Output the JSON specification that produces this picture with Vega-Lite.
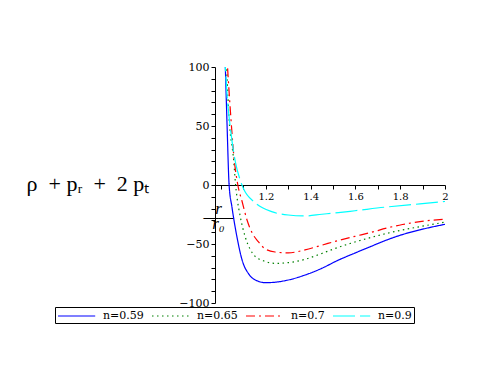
{
  "$schema": "https://vega.github.io/schema/vega-lite/v6.json",
  "width": 230,
  "height": 236,
  "autosize": "none",
  "padding": {"left": 215, "top": 67, "right": 40, "bottom": 85},
  "background": "white",
  "config": {"view": {"stroke": null}},
  "data": {
    "values": [
      {"r": 1.017, "v": 115, "n": "n=0.59"},
      {"r": 1.027, "v": 50, "n": "n=0.59"},
      {"r": 1.036, "v": 0, "n": "n=0.59"},
      {"r": 1.049, "v": -19, "n": "n=0.59"},
      {"r": 1.071, "v": -44, "n": "n=0.59"},
      {"r": 1.094, "v": -63.6, "n": "n=0.59"},
      {"r": 1.124, "v": -75.5, "n": "n=0.59"},
      {"r": 1.153, "v": -80.5, "n": "n=0.59"},
      {"r": 1.2, "v": -82.8, "n": "n=0.59"},
      {"r": 1.25, "v": -82.2, "n": "n=0.59"},
      {"r": 1.3, "v": -80.5, "n": "n=0.59"},
      {"r": 1.375, "v": -76.3, "n": "n=0.59"},
      {"r": 1.45, "v": -70.6, "n": "n=0.59"},
      {"r": 1.52, "v": -64, "n": "n=0.59"},
      {"r": 1.6, "v": -57.5, "n": "n=0.59"},
      {"r": 1.67, "v": -52, "n": "n=0.59"},
      {"r": 1.74, "v": -46.6, "n": "n=0.59"},
      {"r": 1.81, "v": -42, "n": "n=0.59"},
      {"r": 1.888, "v": -38, "n": "n=0.59"},
      {"r": 2.0, "v": -33.3, "n": "n=0.59"},

      {"r": 1.022, "v": 115, "n": "n=0.65"},
      {"r": 1.034, "v": 62, "n": "n=0.65"},
      {"r": 1.057, "v": 19.5, "n": "n=0.65"},
      {"r": 1.065, "v": 0, "n": "n=0.65"},
      {"r": 1.071, "v": -10, "n": "n=0.65"},
      {"r": 1.086, "v": -27, "n": "n=0.65"},
      {"r": 1.108, "v": -44, "n": "n=0.65"},
      {"r": 1.13, "v": -54.5, "n": "n=0.65"},
      {"r": 1.152, "v": -60.5, "n": "n=0.65"},
      {"r": 1.189, "v": -64.2, "n": "n=0.65"},
      {"r": 1.241, "v": -66.4, "n": "n=0.65"},
      {"r": 1.3, "v": -65.8, "n": "n=0.65"},
      {"r": 1.375, "v": -63, "n": "n=0.65"},
      {"r": 1.45, "v": -58, "n": "n=0.65"},
      {"r": 1.524, "v": -52.8, "n": "n=0.65"},
      {"r": 1.598, "v": -48.3, "n": "n=0.65"},
      {"r": 1.673, "v": -44.3, "n": "n=0.65"},
      {"r": 1.74, "v": -41, "n": "n=0.65"},
      {"r": 1.888, "v": -35.3, "n": "n=0.65"},
      {"r": 2.0, "v": -31.5, "n": "n=0.65"},

      {"r": 1.024, "v": 115, "n": "n=0.7"},
      {"r": 1.042, "v": 62, "n": "n=0.7"},
      {"r": 1.057, "v": 25, "n": "n=0.7"},
      {"r": 1.075, "v": 0, "n": "n=0.7"},
      {"r": 1.094, "v": -14, "n": "n=0.7"},
      {"r": 1.116, "v": -29.7, "n": "n=0.7"},
      {"r": 1.14, "v": -41, "n": "n=0.7"},
      {"r": 1.166, "v": -48, "n": "n=0.7"},
      {"r": 1.196, "v": -54, "n": "n=0.7"},
      {"r": 1.241, "v": -56.8, "n": "n=0.7"},
      {"r": 1.3, "v": -57.5, "n": "n=0.7"},
      {"r": 1.375, "v": -55, "n": "n=0.7"},
      {"r": 1.45, "v": -51, "n": "n=0.7"},
      {"r": 1.524, "v": -47, "n": "n=0.7"},
      {"r": 1.598, "v": -43.5, "n": "n=0.7"},
      {"r": 1.673, "v": -40, "n": "n=0.7"},
      {"r": 1.74, "v": -36.5, "n": "n=0.7"},
      {"r": 1.81, "v": -33.5, "n": "n=0.7"},
      {"r": 1.888, "v": -31, "n": "n=0.7"},
      {"r": 2.0, "v": -29, "n": "n=0.7"},

      {"r": 1.015, "v": 115, "n": "n=0.9"},
      {"r": 1.027, "v": 76, "n": "n=0.9"},
      {"r": 1.042, "v": 47.7, "n": "n=0.9"},
      {"r": 1.064, "v": 19.5, "n": "n=0.9"},
      {"r": 1.086, "v": 4, "n": "n=0.9"},
      {"r": 1.1, "v": -3, "n": "n=0.9"},
      {"r": 1.152, "v": -15, "n": "n=0.9"},
      {"r": 1.226, "v": -22.6, "n": "n=0.9"},
      {"r": 1.3, "v": -25.4, "n": "n=0.9"},
      {"r": 1.375, "v": -26.2, "n": "n=0.9"},
      {"r": 1.45, "v": -24.8, "n": "n=0.9"},
      {"r": 1.524, "v": -23.4, "n": "n=0.9"},
      {"r": 1.598, "v": -21.8, "n": "n=0.9"},
      {"r": 1.732, "v": -18.8, "n": "n=0.9"},
      {"r": 1.888, "v": -16, "n": "n=0.9"},
      {"r": 2.0, "v": -14, "n": "n=0.9"}
    ]
  },
  "mark": {"type": "line", "interpolate": "monotone", "clip": true, "strokeWidth": 1.2},
  "encoding": {
    "x": {
      "field": "r",
      "type": "quantitative",
      "scale": {"domain": [0.973, 2], "nice": false, "zero": false},
      "axis": {
        "orient": "bottom",
        "offset": -118,
        "values": [1, 1.1, 1.2, 1.3, 1.4, 1.5, 1.6, 1.7, 1.8, 1.9, 2],
        "labelExpr": "datum.value >= 1.15 && abs(datum.value*5 - round(datum.value*5)) < 0.01 ? (datum.value >= 1.99 ? '2' : format(datum.value, '.1f')) : ''",
        "labelFont": "DejaVu Serif",
        "labelFontSize": 10,
        "labelColor": "black",
        "labelPadding": 2,
        "labelFlush": false,
        "labelOverlap": false,
        "grid": false,
        "domainColor": "black",
        "tickColor": "black",
        "tickSize": 4,
        "title": ["r", "——", "r₀"],
        "titleFont": "Liberation Serif",
        "titleFontStyle": "italic",
        "titleFontWeight": "normal",
        "titleFontSize": 17,
        "titleLineHeight": 7.5,
        "titleColor": "black",
        "titleAlign": "center",
        "titleBaseline": "alphabetic",
        "titleX": 3,
        "titleY": 28.5
      }
    },
    "y": {
      "field": "v",
      "type": "quantitative",
      "scale": {"domain": [-100, 100], "nice": false},
      "axis": {
        "orient": "left",
        "values": [-100, -90, -80, -70, -60, -50, -40, -30, -20, -10, 0, 10, 20, 30, 40, 50, 60, 70, 80, 90, 100],
        "labelExpr": "abs(datum.value) % 50 == 0 ? (datum.value < 0 ? '−' + abs(datum.value) : '' + datum.value) : ''",
        "labelFont": "DejaVu Serif",
        "labelFontSize": 11,
        "labelColor": "black",
        "labelPadding": 2,
        "labelFlush": false,
        "labelOverlap": false,
        "grid": false,
        "domainColor": "black",
        "tickColor": "black",
        "tickSize": 4,
        "title": "ρ\u2002+ pᵣ\u2002+\u20022 pₜ",
        "titleFont": "Liberation Serif",
        "titleFontWeight": "normal",
        "titleFontSize": 22,
        "titleColor": "black",
        "titleAngle": 0,
        "titleAlign": "left",
        "titleBaseline": "alphabetic",
        "titleX": -189,
        "titleY": 123
      }
    },
    "color": {
      "field": "n",
      "type": "nominal",
      "scale": {"domain": ["n=0.59", "n=0.65", "n=0.7", "n=0.9"], "range": ["#0000ff", "#008000", "#ff0000", "#00ffff"]},
      "legend": {
        "orient": "none",
        "legendX": -160,
        "legendY": 240,
        "direction": "horizontal",
        "title": null,
        "strokeColor": "black",
        "fillColor": "white",
        "padding": 2,
        "symbolType": "M-1,0H5.2",
        "symbolSize": 144,
        "symbolStrokeWidth": 1.2,
        "labelFont": "DejaVu Serif",
        "labelFontSize": 11,
        "labelColor": "black",
        "labelOffset": 32,
        "columnPadding": 5
      }
    },
    "strokeDash": {
      "field": "n",
      "type": "nominal",
      "scale": {"domain": ["n=0.59", "n=0.65", "n=0.7", "n=0.9"], "range": [[1, 0], [1.5, 3.5], [9, 4, 2, 4], [22, 5]]}
    }
  }
}
